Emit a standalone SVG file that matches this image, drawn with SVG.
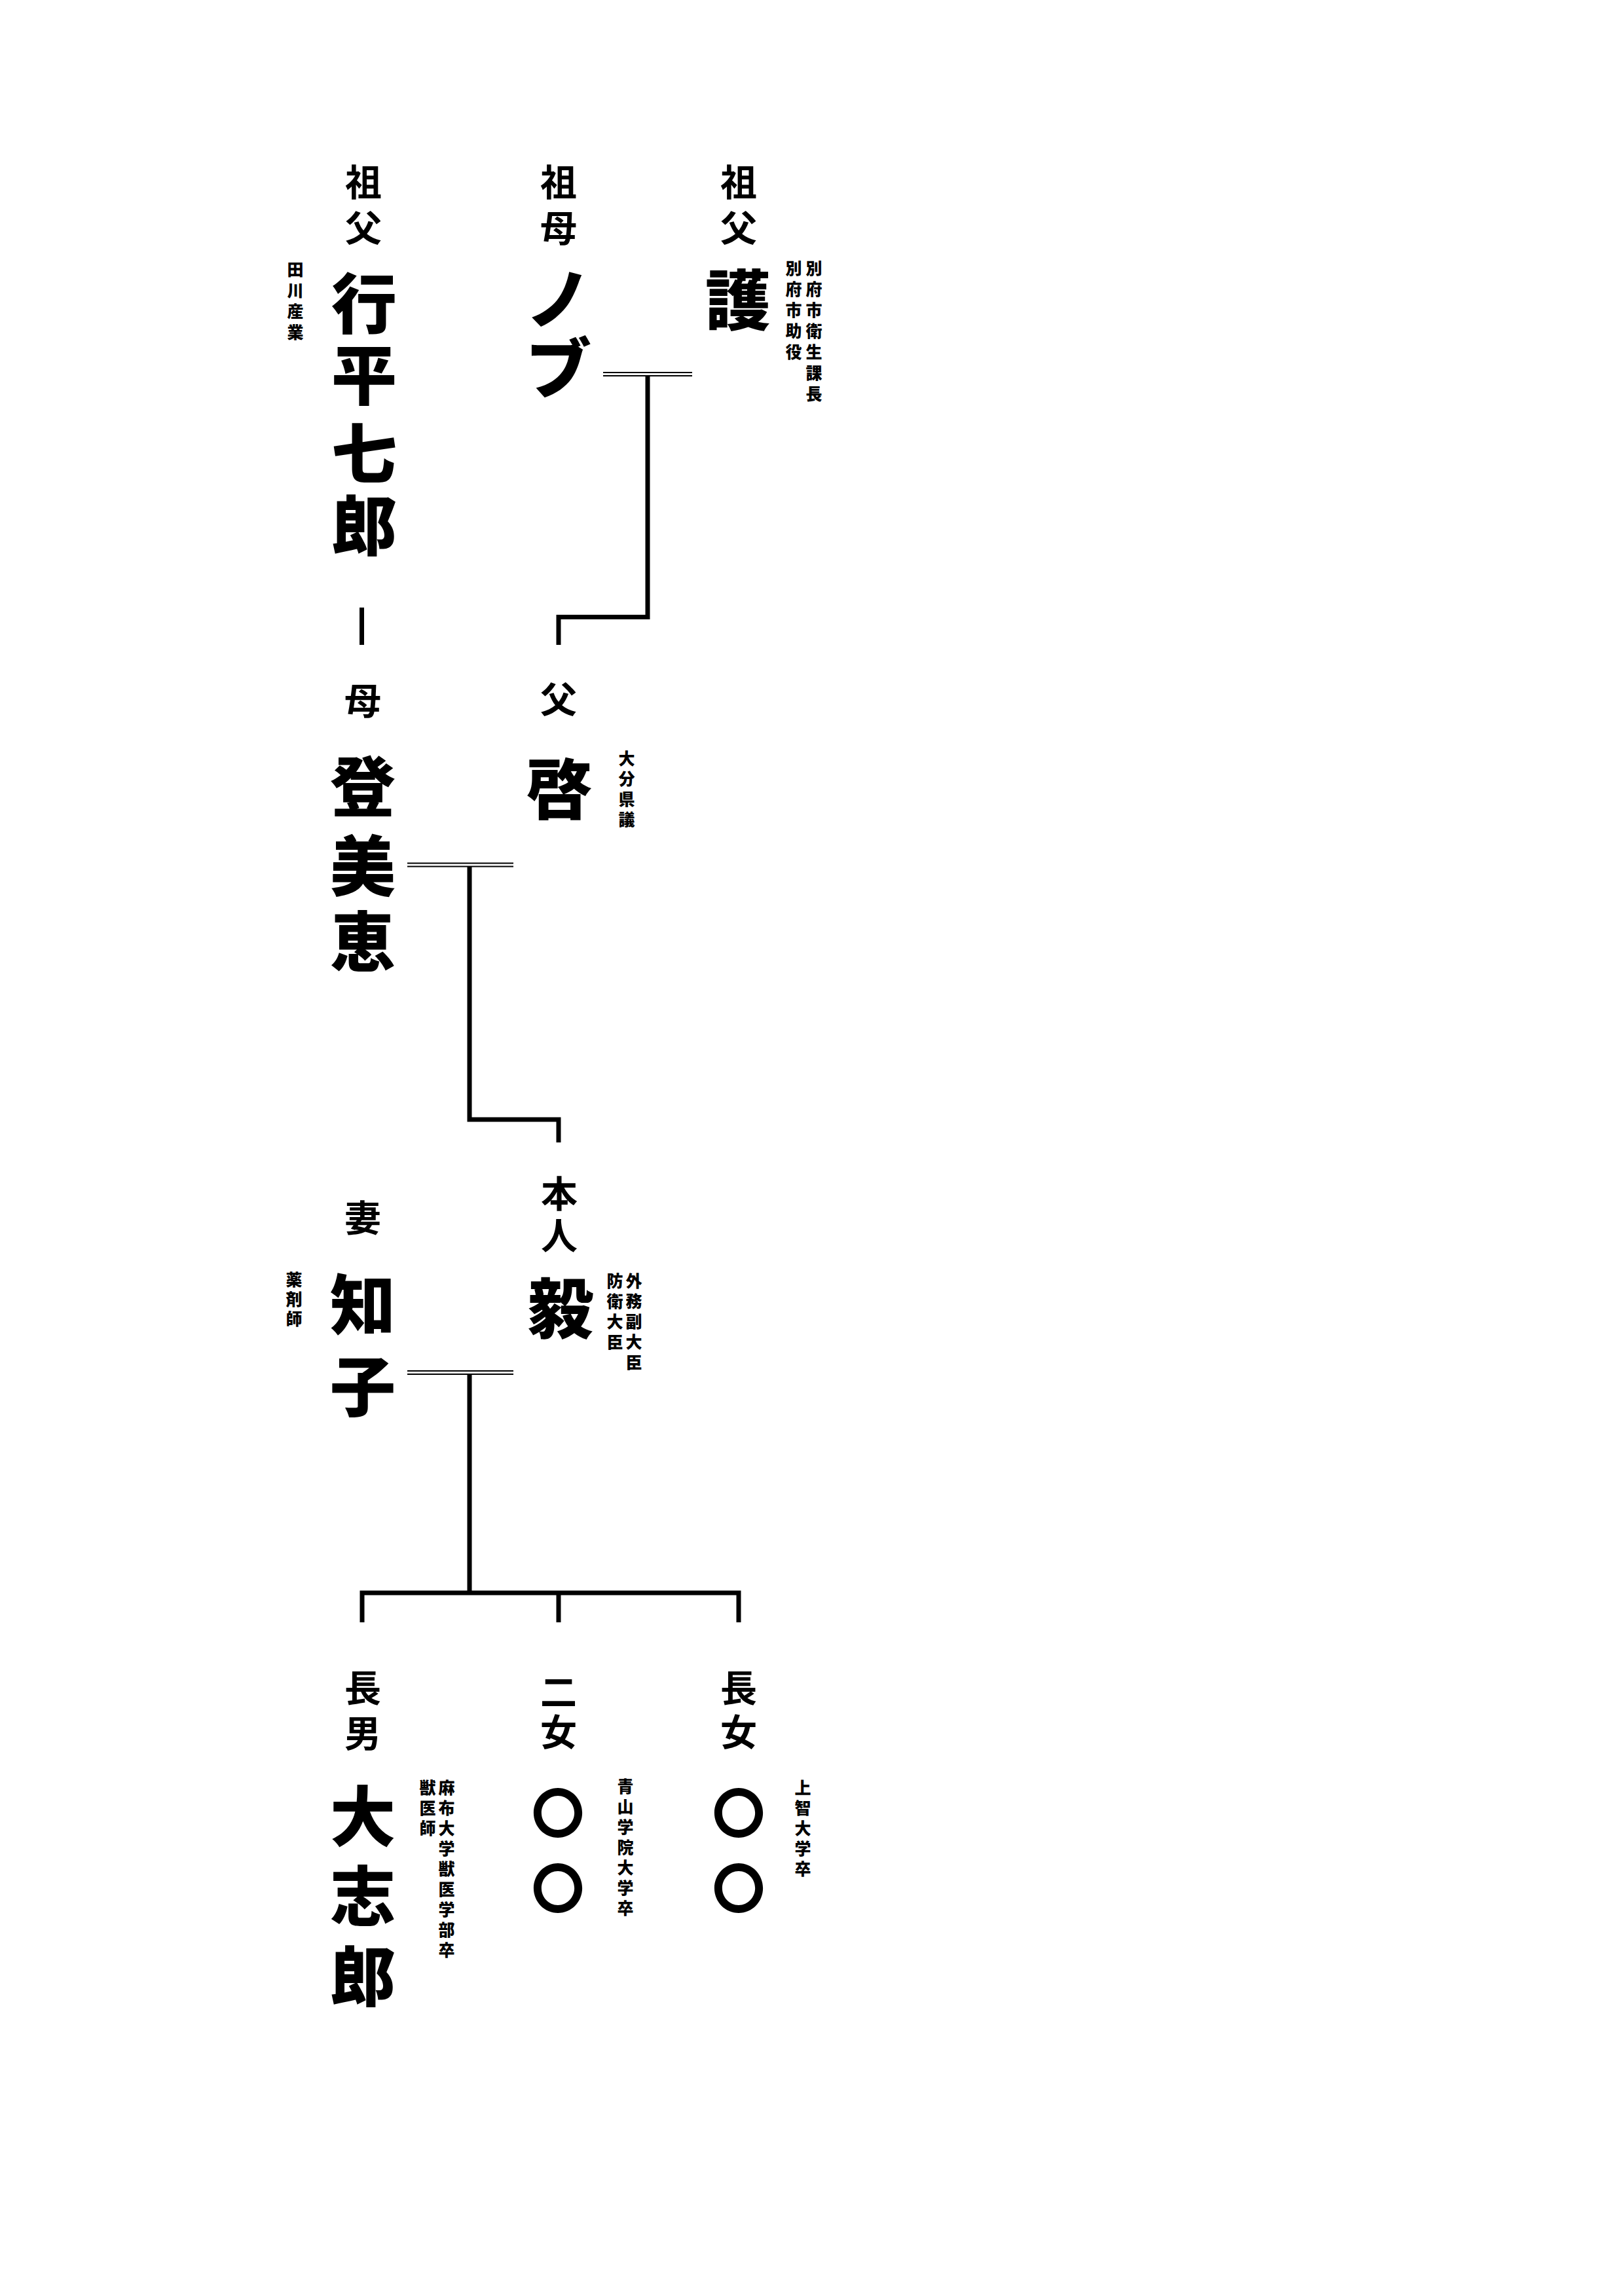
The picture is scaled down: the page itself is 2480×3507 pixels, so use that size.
<svg xmlns="http://www.w3.org/2000/svg" width="2480" height="3507" viewBox="0 0 2480 3507">
<style>
text{font-family:"Noto Sans CJK JP","Noto Sans CJK SC",sans-serif;text-anchor:middle;dominant-baseline:central;fill:#000}
.rel{font-size:56px;font-weight:700}
.name{font-size:100px;font-weight:900}
.note{font-size:25px;font-weight:900}
.maru{font-size:80px;font-weight:900}
.thick{fill:none;stroke:#000;stroke-width:7;stroke-linecap:butt;stroke-linejoin:miter}
.dbl{stroke:#000;stroke-width:2.2}
</style>
<rect width="2480" height="3507" fill="#fff"/>
<g id="connectors">
<line class="dbl" x1="921" y1="569" x2="1057" y2="569"/>
<line class="dbl" x1="921" y1="574" x2="1057" y2="574"/>
<path class="thick" d="M989 574 V942.5 H853 V985"/>
<path class="thick" d="M552.5 928 V985"/>
<line class="dbl" x1="622" y1="1318.5" x2="784" y2="1318.5"/>
<line class="dbl" x1="622" y1="1323.5" x2="784" y2="1323.5"/>
<path class="thick" d="M717 1323.5 V1710 H853 V1745"/>
<line class="dbl" x1="622" y1="2094" x2="784" y2="2094"/>
<line class="dbl" x1="622" y1="2099" x2="784" y2="2099"/>
<path class="thick" d="M717 2099 V2433"/>
<path class="thick" d="M553 2478 V2433 H1128 V2478"/>
<path class="thick" d="M853 2433 V2478"/>
</g>
<g id="grandfather-paternal">
<text class="rel"><tspan x="1128" y="274">祖</tspan><tspan x="1128" y="344">父</tspan></text>
<text class="name" x="1127" y="452">護</text>
<text class="note"><tspan x="1243" y="408">別</tspan><tspan x="1243" y="440">府</tspan><tspan x="1243" y="472">市</tspan><tspan x="1243" y="504">衛</tspan><tspan x="1243" y="536">生</tspan><tspan x="1243" y="568">課</tspan><tspan x="1243" y="600">長</tspan></text>
<text class="note"><tspan x="1212" y="408">別</tspan><tspan x="1212" y="440">府</tspan><tspan x="1212" y="472">市</tspan><tspan x="1212" y="504">助</tspan><tspan x="1212" y="536">役</tspan></text>
</g>
<g id="grandmother-paternal">
<text class="rel"><tspan x="853" y="274">祖</tspan><tspan x="853" y="344">母</tspan></text>
<text class="name"><tspan x="853" y="450">ノ</tspan><tspan x="853" y="556">ブ</tspan></text>
</g>
<g id="grandfather-maternal">
<text class="rel"><tspan x="555" y="274">祖</tspan><tspan x="555" y="344">父</tspan></text>
<text class="name"><tspan x="556" y="457">行</tspan><tspan x="556" y="566">平</tspan><tspan x="556" y="686">七</tspan><tspan x="556" y="796">郎</tspan></text>
<text class="note"><tspan x="451" y="410">田</tspan><tspan x="451" y="442">川</tspan><tspan x="451" y="474">産</tspan><tspan x="451" y="506">業</tspan></text>
</g>
<g id="mother">
<text class="rel" x="554" y="1066">母</text>
<text class="name"><tspan x="554" y="1195">登</tspan><tspan x="554" y="1316">美</tspan><tspan x="554" y="1432">恵</tspan></text>
</g>
<g id="father">
<text class="rel" x="853" y="1064">父</text>
<text class="name" x="854" y="1199">啓</text>
<text class="note"><tspan x="957" y="1157">大</tspan><tspan x="957" y="1188">分</tspan><tspan x="957" y="1219">県</tspan><tspan x="957" y="1250">議</tspan></text>
</g>
<g id="wife">
<text class="rel" x="554" y="1856">妻</text>
<text class="name"><tspan x="554" y="1986">知</tspan><tspan x="554" y="2111">子</tspan></text>
<text class="note"><tspan x="449" y="1953">薬</tspan><tspan x="449" y="1983">剤</tspan><tspan x="449" y="2013">師</tspan></text>
</g>
<g id="self">
<text class="rel"><tspan x="854" y="1819">本</tspan><tspan x="854" y="1883">人</tspan></text>
<text class="name" x="856" y="1992">毅</text>
<text class="note"><tspan x="968" y="1955">外</tspan><tspan x="968" y="1986">務</tspan><tspan x="968" y="2017">副</tspan><tspan x="968" y="2048">大</tspan><tspan x="968" y="2079">臣</tspan></text>
<text class="note"><tspan x="939" y="1955">防</tspan><tspan x="939" y="1986">衛</tspan><tspan x="939" y="2017">大</tspan><tspan x="939" y="2048">臣</tspan></text>
</g>
<g id="eldest-son">
<text class="rel"><tspan x="554" y="2574">長</tspan><tspan x="554" y="2643">男</tspan></text>
<text class="name"><tspan x="554" y="2768">大</tspan><tspan x="554" y="2890">志</tspan><tspan x="554" y="3012">郎</tspan></text>
<text class="note"><tspan x="682" y="2729">麻</tspan><tspan x="682" y="2760">布</tspan><tspan x="682" y="2791">大</tspan><tspan x="682" y="2822">学</tspan><tspan x="682" y="2853">獣</tspan><tspan x="682" y="2884">医</tspan><tspan x="682" y="2915">学</tspan><tspan x="682" y="2946">部</tspan><tspan x="682" y="2977">卒</tspan></text>
<text class="note"><tspan x="653" y="2729">獣</tspan><tspan x="653" y="2760">医</tspan><tspan x="653" y="2791">師</tspan></text>
</g>
<g id="second-daughter">
<text class="rel"><tspan x="853" y="2580">二</tspan><tspan x="853" y="2641">女</tspan></text>
<text class="maru"><tspan x="852" y="2764">〇</tspan><tspan x="852" y="2879">〇</tspan></text>
<text class="note"><tspan x="955" y="2727">青</tspan><tspan x="955" y="2758">山</tspan><tspan x="955" y="2789">学</tspan><tspan x="955" y="2820">院</tspan><tspan x="955" y="2851">大</tspan><tspan x="955" y="2882">学</tspan><tspan x="955" y="2913">卒</tspan></text>
</g>
<g id="eldest-daughter">
<text class="rel"><tspan x="1128" y="2574">長</tspan><tspan x="1128" y="2641">女</tspan></text>
<text class="maru"><tspan x="1128" y="2764">〇</tspan><tspan x="1128" y="2879">〇</tspan></text>
<text class="note"><tspan x="1226" y="2729">上</tspan><tspan x="1226" y="2760">智</tspan><tspan x="1226" y="2791">大</tspan><tspan x="1226" y="2822">学</tspan><tspan x="1226" y="2853">卒</tspan></text>
</g>
</svg>
